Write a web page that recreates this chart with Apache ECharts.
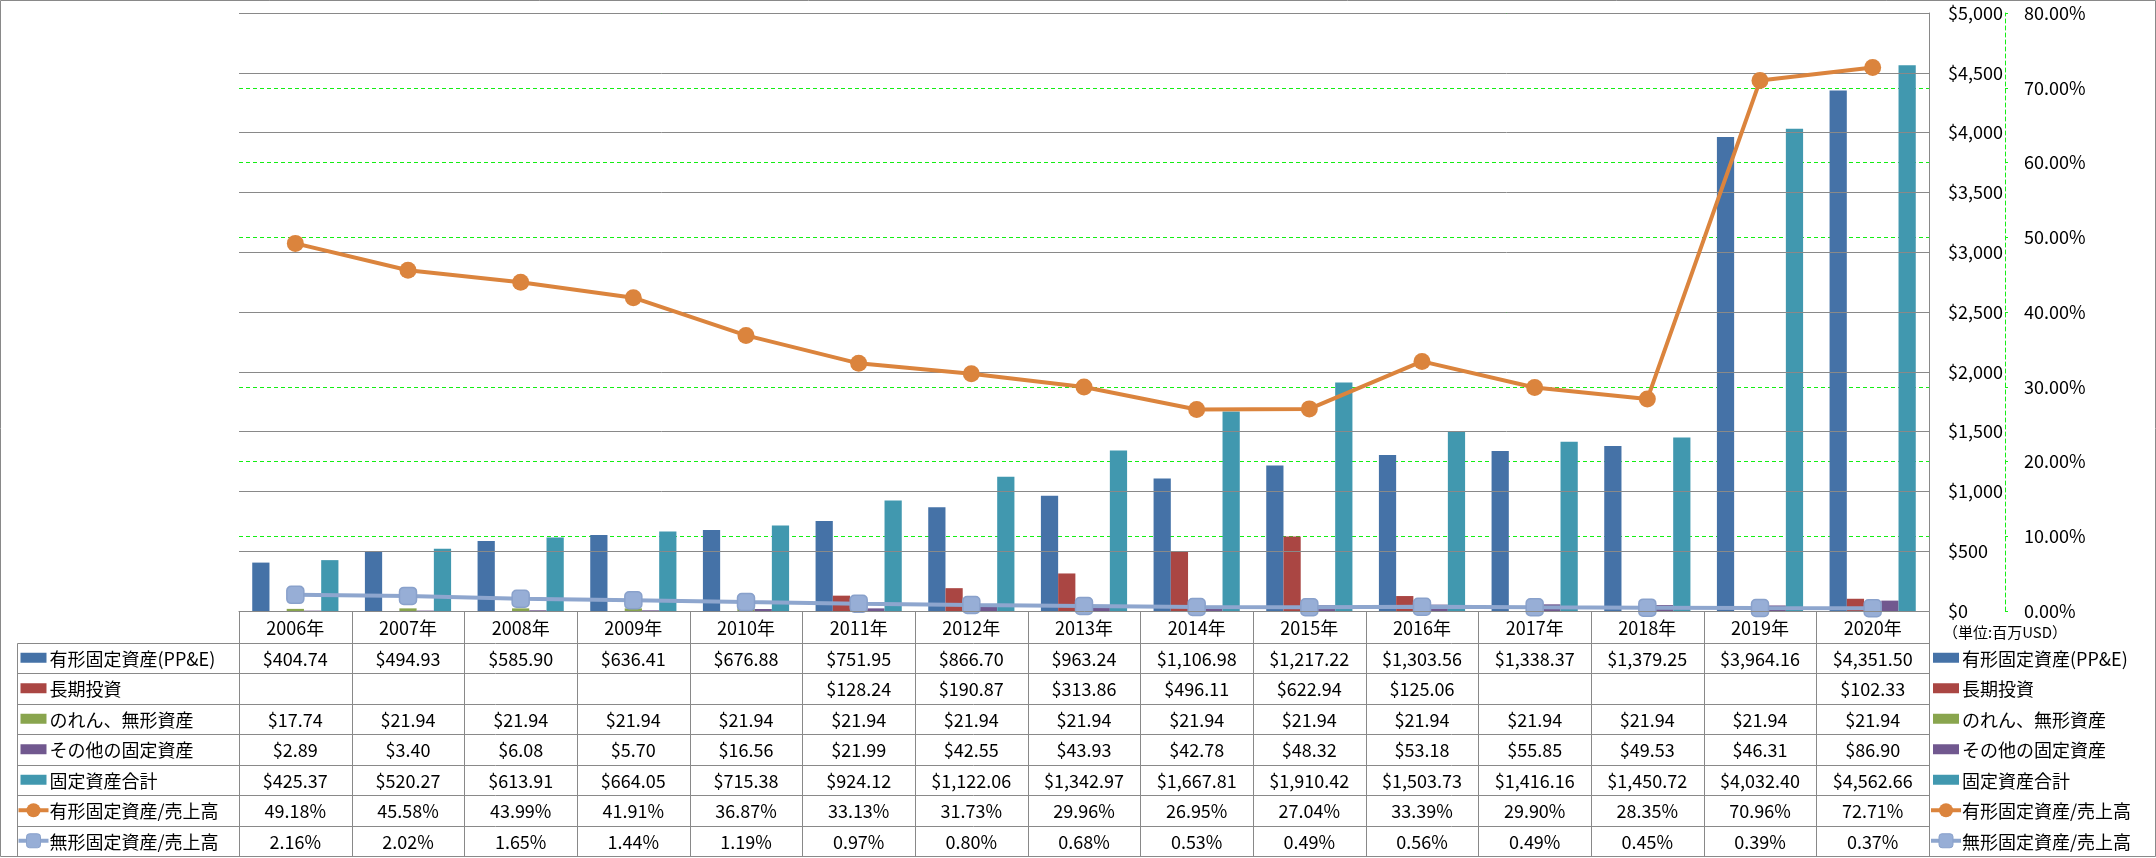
<!DOCTYPE html>
<html><head><meta charset="utf-8">
<script src="https://cdn.jsdelivr.net/npm/echarts@6/dist/echarts.min.js"></script>
<style>html,body{margin:0;padding:0;background:#fff}#c{width:2156px;height:858px}</style>
</head><body><div id="c"></div>
<script>
// ---- data ----
const years = ['2006年','2007年','2008年','2009年','2010年','2011年','2012年','2013年','2014年','2015年','2016年','2017年','2018年','2019年','2020年'];
const ppe = [404.74,494.93,585.90,636.41,676.88,751.95,866.70,963.24,1106.98,1217.22,1303.56,1338.37,1379.25,3964.16,4351.50];
const longTermInvest = [null,null,null,null,null,128.24,190.87,313.86,496.11,622.94,125.06,null,null,null,102.33];
const goodwillIntangible = [17.74,21.94,21.94,21.94,21.94,21.94,21.94,21.94,21.94,21.94,21.94,21.94,21.94,21.94,21.94];
const otherFixed = [2.89,3.40,6.08,5.70,16.56,21.99,42.55,43.93,42.78,48.32,53.18,55.85,49.53,46.31,86.90];
const totalFixed = [425.37,520.27,613.91,664.05,715.38,924.12,1122.06,1342.97,1667.81,1910.42,1503.73,1416.16,1450.72,4032.40,4562.66];
const ppeToSales = [49.18,45.58,43.99,41.91,36.87,33.13,31.73,29.96,26.95,27.04,33.39,29.90,28.35,70.96,72.71];
const intangibleToSales = [2.16,2.02,1.65,1.44,1.19,0.97,0.80,0.68,0.53,0.49,0.56,0.49,0.45,0.39,0.37];
const seriesNames = ['有形固定資産(PP&E)','長期投資','のれん、無形資産','その他の固定資産','固定資産合計','有形固定資産/売上高','無形固定資産/売上高'];
const unitLabel = '（単位:百万USD）';

// ---- styles ----
const FONT = '"Noto Sans CJK JP", "Noto Sans", sans-serif';
const COLORS = ['#4572A7','#AA4643','#89A54E','#71588F','#4198AF','#DB843D','#93A9CF'];
const GRAY = '#898989';
const GREEN = '#14EE14';

const chart = echarts.init(document.getElementById('c'), null, {renderer:'canvas'});

const barSeries = [ppe, longTermInvest, goodwillIntangible, otherFixed, totalFixed].map((d, i) => ({
  name: seriesNames[i], type: 'bar', data: d, yAxisIndex: 0,
  barGap: '0%', barCategoryGap: '23.5%',
  itemStyle: {color: COLORS[i]}, z: 2
}));

const option = {
  animation: false,
  backgroundColor: '#fff',
  grid: {left: 239, top: 13, width: 1690, height: 598, containLabel: false},
  xAxis: {
    type: 'category', data: years, boundaryGap: true,
    axisLabel: {show: false}, axisTick: {show: false},
    axisLine: {show: true, lineStyle: {color: GRAY, width: 1}},
    splitLine: {show: false}
  },
  yAxis: [
    {
      type: 'value', position: 'right', min: 0, max: 5000, interval: 500, z: 3,
      axisLine: {show: true, lineStyle: {color: GRAY, width: 1}},
      axisTick: {show: false},
      splitLine: {show: true, lineStyle: {color: GRAY, width: 1}},
      axisLabel: {margin: 19, align: 'left', fontSize: 18, color: '#000', fontFamily: FONT,
        formatter: v => '$' + v.toLocaleString('en-US')}
    },
    {
      type: 'value', position: 'right', offset: 76, min: 0, max: 80, interval: 10, z: 1,
      axisLine: {show: true, lineStyle: {color: GREEN, width: 1, type: [4, 3]}},
      axisTick: {show: true, length: 3, lineStyle: {color: GREEN}},
      splitLine: {show: true, lineStyle: {color: GREEN, width: 1, type: [4, 3]}},
      axisLabel: {margin: 19, align: 'left', fontSize: 18, color: '#000', fontFamily: FONT,
        formatter: v => v.toFixed(2) + '%'}
    }
  ],
  series: barSeries.concat([
    {
      name: seriesNames[5], type: 'line', yAxisIndex: 1, data: ppeToSales,
      symbol: 'circle', symbolSize: 17, z: 4,
      lineStyle: {color: COLORS[5], width: 4},
      itemStyle: {color: COLORS[5]}
    },
    {
      name: seriesNames[6], type: 'line', yAxisIndex: 1, data: intangibleToSales,
      symbol: 'roundRect', symbolSize: 17, z: 4,
      lineStyle: {color: '#8EA6CE', width: 4},
      itemStyle: {color: '#97AED6', borderColor: '#89A1CB', borderWidth: 1.5}
    }
  ])
};
chart.setOption(option);

// ---- data table (built from arrays, positioned via the axes) ----
function fmtMoney(v) { return v == null ? '' : '$' + v.toLocaleString('en-US', {minimumFractionDigits: 2, maximumFractionDigits: 2}); }
function fmtPct(v) { return v == null ? '' : v.toFixed(2) + '%'; }

const tableRows = [
  {vals: ppe, fmt: fmtMoney, kind: 'bar'},
  {vals: longTermInvest, fmt: fmtMoney, kind: 'bar'},
  {vals: goodwillIntangible, fmt: fmtMoney, kind: 'bar'},
  {vals: otherFixed, fmt: fmtMoney, kind: 'bar'},
  {vals: totalFixed, fmt: fmtMoney, kind: 'bar'},
  {vals: ppeToSales, fmt: fmtPct, kind: 'circle'},
  {vals: intangibleToSales, fmt: fmtPct, kind: 'square'}
];

function legendKey(els, kind, color, x0, cy) {
  if (kind === 'bar') {
    els.push({type: 'rect', shape: {x: x0 + 2, y: cy - 5, width: 26, height: 10}, style: {fill: color}});
  } else {
    const lc = kind === 'square' ? '#8EA6CE' : color;
    els.push({type: 'line', shape: {x1: x0, y1: cy, x2: x0 + 30, y2: cy}, style: {stroke: lc, lineWidth: 4}});
    if (kind === 'circle') {
      els.push({type: 'circle', shape: {cx: x0 + 15, cy: cy, r: 7}, style: {fill: color}});
    } else {
      els.push({type: 'rect', shape: {x: x0 + 8, y: cy - 7, width: 14, height: 14, r: 3}, style: {fill: '#97AED6', stroke: '#89A1CB', lineWidth: 1}});
    }
  }
}

function buildTable() {
  const els = [];
  const cx = years.map((_, i) => chart.convertToPixel({xAxisIndex: 0}, i));
  const half = (cx[1] - cx[0]) / 2;
  const left = cx[0] - half, right = cx[cx.length - 1] + half;
  const top = chart.convertToPixel({yAxisIndex: 0}, 0);
  const headerH = 31.5, rowH = 30.5;
  const legLeft = 16.5;
  const bottom = top + headerH + tableRows.length * rowH;
  const px = v => Math.round(v) + 0.5;
  const ln = (x1, y1, x2, y2) => els.push({type: 'line', shape: {x1, y1, x2, y2}, style: {stroke: GRAY, lineWidth: 1}, z: 10});
  const txt = (t, x, y, align, size) => els.push({type: 'text', x, y, z: 11,
    style: {text: t, fill: '#000', font: (size || 18) + 'px ' + FONT, align: align, verticalAlign: 'middle'}});

  // horizontal lines
  ln(px(left), px(top), px(right), px(top));
  for (let r = 0; r <= tableRows.length; r++) {
    const y = px(top + headerH + r * rowH);
    ln(px(legLeft), y, px(right), y);
  }
  // vertical lines
  ln(px(legLeft), px(top + headerH), px(legLeft), px(bottom));
  for (let i = 0; i <= years.length; i++) {
    const x = px(left + i * 2 * half);
    ln(x, px(top), x, px(bottom));
  }
  // header
  years.forEach((y, i) => txt(y, cx[i], top + headerH / 2 + 1, 'center'));
  // rows
  tableRows.forEach((row, r) => {
    const cy = top + headerH + r * rowH + rowH / 2;
    legendKey(els, row.kind, COLORS[r], legLeft + 2, cy);
    txt(seriesNames[r], legLeft + 33, cy + 1, 'left');
    row.vals.forEach((v, i) => txt(row.fmt(v), cx[i], cy + 1, 'center'));
    // right-side legend
    legendKey(els, row.kind, COLORS[r], right + 2, cy);
    txt(seriesNames[r], right + 33, cy + 1, 'left');
  });
  // unit
  txt(unitLabel, right + 14, top + 21, 'left', 15);
  // outer border
  els.push({type: 'rect', shape: {x: 0.5, y: 0.5, width: 2155, height: 856}, style: {fill: 'none', stroke: GRAY, lineWidth: 1}, z: 12});
  chart.setOption({graphic: {elements: els}});
}
buildTable();
</script>
</body></html>
